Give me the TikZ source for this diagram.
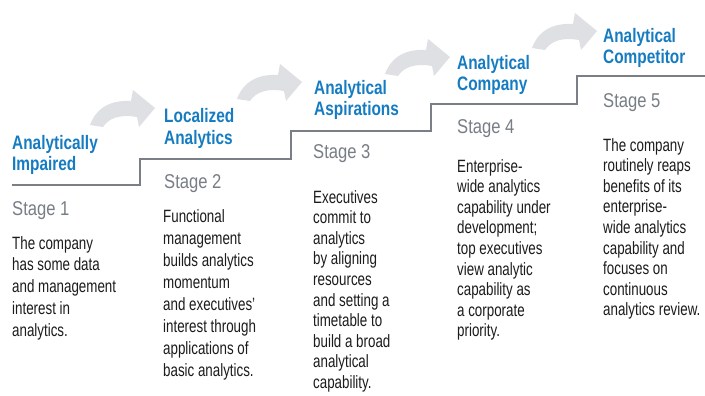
\documentclass[tikz,border=0pt]{standalone}
\usepackage{fontspec}
\setmainfont{Liberation Sans}[FakeStretch=0.75]
\newfontfamily\headfont{Liberation Sans}[FakeStretch=0.79]
\newfontfamily\stagefont{Liberation Sans}[FakeStretch=0.83]
\definecolor{titleblue}{RGB}{22,124,194}
\definecolor{stagegray}{RGB}{120,126,134}
\definecolor{linegray}{RGB}{122,127,135}
\definecolor{arrowgray}{RGB}{222,224,228}
\definecolor{bodyblack}{RGB}{28,28,28}
\begin{document}
\begin{tikzpicture}[x=1pt,y=-1pt,
  titletext/.style={anchor=base west, inner sep=0pt, align=left, text=titleblue,
    font=\headfont\bfseries\fontsize{19.5}{21}\selectfont},
  stagetext/.style={anchor=base west, inner sep=0pt, text=stagegray,
    font=\stagefont\fontsize{20}{21}\selectfont},
  bodytext/.style={anchor=base west, inner sep=0pt, align=left, text=bodyblack,
    font=\fontsize{17.8}{#1}\selectfont},
  bodytext/.default=21.5,
  stepline/.style={draw=linegray, line width=1.3pt},
  growarrow/.pic={\fill[arrowgray] (90,125) .. controls (97,106) and (113,100) .. (131,101)
     -- (133,90) -- (155,108) -- (139,127) -- (137,117)
     .. controls (120,114) and (109,118) .. (103,127) -- cycle;}
]
\useasboundingbox (0,0) rectangle (705,396);
\fill[white] (0,0) rectangle (705,396);

% arrows
\pic at (0,0) {growarrow};
\pic at (147,-26) {growarrow};
\pic at (295,-51) {growarrow};
\pic at (442,-77) {growarrow};

% step line
\coordinate (l0) at (12,185);
\coordinate (l1) at (140,185);
\coordinate (l2) at (140,159);
\coordinate (l3) at (291,159);
\coordinate (l4) at (291,131);
\coordinate (l5) at (431,131);
\coordinate (l6) at (431,104);
\coordinate (l7) at (577,104);
\coordinate (l8) at (577,76);
\coordinate (l9) at (705,76);
\draw[stepline] (l0) -- (l1) -- (l2) -- (l3) -- (l4) -- (l5) -- (l6) -- (l7) -- (l8) -- (l9);

% (multi-line nodes are placed by the baseline of their last line)
% stage 1
\node[titletext] (t1) at (12,171) {Analytically\\Impaired};
\node[stagetext] (s1) at (12,215) {Stage 1};
\node[bodytext=21.8] (b1) at (12,336.2) {The company\\has some data\\and management\\interest in\\analytics.};

% stage 2
\node[titletext] (t2) at (164,144) {Localized\\Analytics};
\node[stagetext] (s2) at (164,188) {Stage 2};
\node[bodytext=22] (b2) at (163,376) {Functional\\management\\builds analytics\\momentum\\and executives’\\interest through\\applications of\\basic analytics.};

% stage 3
\node[titletext] (t3) at (314,116) {Analytical\\Aspirations};
\node[stagetext] (s3) at (313,158) {Stage 3};
\node[bodytext=20.6] (b3) at (313,388.4) {Executives\\commit to\\analytics\\by aligning\\resources\\and setting a\\timetable to\\build a broad\\analytical\\capability.};

% stage 4
\node[titletext] (t4) at (457,91) {Analytical\\Company};
\node[stagetext] (s4) at (457,134) {Stage 4};
\node[bodytext=20.6] (b4) at (457,336.8) {Enterprise-\\wide analytics\\capability under\\development;\\top executives\\view analytic\\capability as\\a corporate\\priority.};

% stage 5
\node[titletext] (t5) at (603,64) {Analytical\\Competitor};
\node[stagetext] (s5) at (603,107) {Stage 5};
\node[bodytext=20.6] (b5) at (603,315.8) {The company\\routinely reaps\\benefits of its\\enterprise-\\wide analytics\\capability and\\focuses on\\continuous\\analytics review.};
\end{tikzpicture}
\end{document}
